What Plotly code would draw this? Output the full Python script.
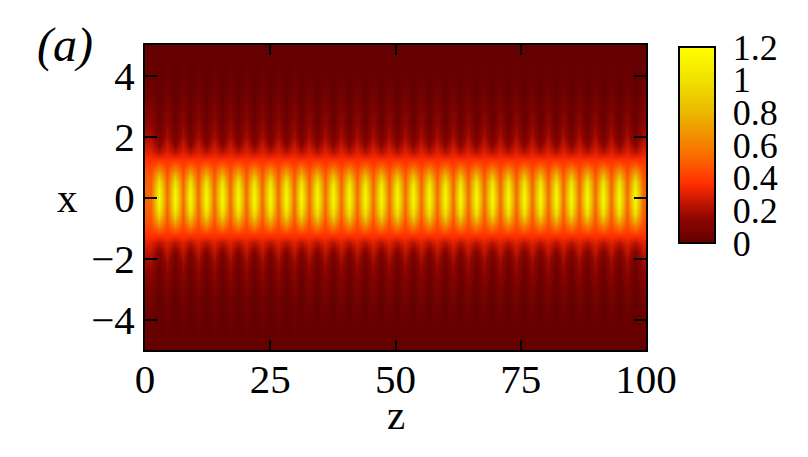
import plotly.graph_objects as go

# --- data -----------------------------------------------------------------
# transverse sample points (x >= 0), mirrored for x < 0
x_samples = [0.0, 0.25, 0.5, 0.75, 1.0, 1.25, 1.5, 1.75, 2.0, 2.5, 3.0, 3.5, 4.0, 5.0]

# intensity profile at a bright (breathing maximum) column
profil_pic = [1.15, 1.11, 1.0, 0.80, 0.55, 0.36, 0.22, 0.12, 0.06, 0.02, 0.01, 0.0, 0.0, 0.0]
# intensity profile between two bright columns (breathing minimum)
profil_creux = [0.52, 0.51, 0.49, 0.46, 0.42, 0.36, 0.30, 0.25, 0.20, 0.14, 0.09, 0.05, 0.025, 0.0]

# z positions of the bright columns
z_pics = [2.7, 5.9, 9.0, 12.2, 15.4, 18.6, 21.7, 24.9, 28.1, 31.2, 34.4,
          37.6, 40.7, 43.9, 47.1, 50.3, 53.4, 56.6, 59.8, 62.9, 66.1,
          69.3, 72.4, 75.6, 78.8, 82.0, 85.1, 88.3, 91.5, 94.6, 97.8]
# z positions of the dim columns
z_creux = [0.0, 1.1, 4.3, 7.5, 10.6, 13.8, 17.0, 20.1, 23.3, 26.5, 29.7, 32.8,
           36.0, 39.2, 42.3, 45.5, 48.7, 51.8, 55.0, 58.2, 61.4, 64.5,
           67.7, 70.9, 74.0, 77.2, 80.4, 83.5, 86.7, 89.9, 93.0, 96.2, 99.4, 100.0]

z_ticks = [0, 25, 50, 75, 100]
x_ticks = [-4, -2, 0, 2, 4]
cb_ticks = [0, 0.2, 0.4, 0.6, 0.8, 1.0, 1.2]
cb_labels = ["0", "0.2", "0.4", "0.6", "0.8", "1", "1.2"]

# --- build the grid ----------------------------------------------------------
y_full = [-v for v in x_samples[::-1]] + x_samples[1:]


def colonne(profil):
    return profil[::-1] + profil[1:]


cols = [(z, colonne(profil_pic)) for z in z_pics] + [(z, colonne(profil_creux)) for z in z_creux]
cols.sort(key=lambda c: c[0])
z_axis = [c[0] for c in cols]
grille = [[c[1][i] for c in cols] for i in range(len(y_full))]

couleurs = [
    [0.0, "rgb(100,0,0)"],
    [0.12, "rgb(140,5,0)"],
    [0.2, "rgb(190,20,0)"],
    [0.3, "rgb(255,45,0)"],
    [0.45, "rgb(250,110,0)"],
    [0.55, "rgb(240,145,0)"],
    [0.67, "rgb(235,185,0)"],
    [0.83, "rgb(240,225,0)"],
    [1.0, "rgb(255,255,0)"],
]

police = "Liberation Serif"
taille = 41

fig = go.Figure()
fig.add_trace(go.Heatmap(
    x=z_axis, y=y_full, z=grille,
    zmin=0, zmax=1.2, zsmooth="best",
    colorscale=couleurs,
    colorbar=dict(
        x=1.066, xanchor="left", xpad=0,
        y=0.672, yanchor="middle", ypad=0,
        len=0.643, lenmode="fraction",
        thickness=36, thicknessmode="pixels",
        outlinewidth=2, outlinecolor="black",
        tickvals=cb_ticks, ticktext=cb_labels,
        # invisible outside ticks only push the labels to the right
        ticks="outside", ticklen=10, tickwidth=1, tickcolor="rgba(0,0,0,0)",
        tickfont=dict(family=police, size=36, color="black"),
    ),
    showscale=True,
))

# inside ticks on both sides of the colour bar
formes = []
x_gauche = 1.066
x_droite = 1.066 + 36 / 501
for v in cb_ticks[1:-1]:
    yp = 0.3508 + v / 1.2 * 0.6426
    formes.append(dict(type="line", xref="paper", yref="paper",
                       x0=x_gauche, x1=x_gauche + 10 / 501, y0=yp, y1=yp,
                       line=dict(color="black", width=2)))
    formes.append(dict(type="line", xref="paper", yref="paper",
                       x0=x_droite - 10 / 501, x1=x_droite, y0=yp, y1=yp,
                       line=dict(color="black", width=2)))

# the page body adds an 8 px offset, margins compensate for it
fig.update_layout(
    width=808, height=457,
    margin=dict(l=137, r=170, t=37, b=115),
    paper_bgcolor="white", plot_bgcolor="white",
    font=dict(family=police, size=taille, color="black"),
    shapes=formes,
    xaxis=dict(range=[0, 100], tickvals=z_ticks, ticks="inside", ticklen=10, tickwidth=2,
               tickcolor="black", mirror="ticks", showline=True, linecolor="black", linewidth=2,
               showgrid=False, zeroline=False, tickfont=dict(size=taille),
               ticklabelstandoff=-8),
    yaxis=dict(range=[-5, 5], tickvals=x_ticks, ticks="inside", ticklen=12, tickwidth=2,
               tickcolor="black", mirror="ticks", showline=True, linecolor="black", linewidth=2,
               showgrid=False, zeroline=False, tickfont=dict(size=taille)),
    annotations=[
        dict(text="z", xref="paper", yref="paper", x=0.5, y=-0.212, yanchor="middle",
             showarrow=False, font=dict(size=taille)),
        dict(text="x", xref="paper", yref="paper", x=-0.155, y=0.5, xanchor="center",
             yanchor="middle", showarrow=False, font=dict(size=taille)),
        dict(text="<i>(a)</i>", xref="paper", yref="paper", x=-0.16, y=1.0, xanchor="center",
             yanchor="middle", showarrow=False, font=dict(size=48)),
    ],
)

fig.write_html("out.html")
